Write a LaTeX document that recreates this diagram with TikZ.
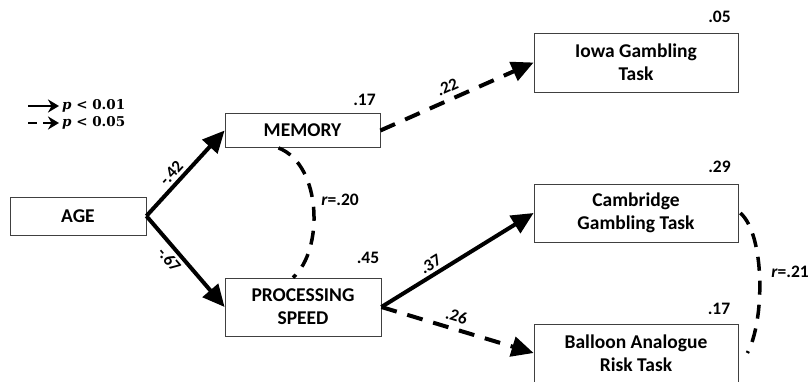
\documentclass[tikz,border=0pt]{standalone}
\usepackage{fontspec}
\setmainfont{Carlito}
\newfontfamily\legfont{DejaVu Serif}
\usetikzlibrary{arrows.meta,calc}
\begin{document}
\begin{tikzpicture}[x=1pt,y=-1pt,
 box/.style={draw=black!75, line width=0.8pt, fill=white, align=center,
   font=\fontsize{19.5}{23}\selectfont\bfseries, inner sep=0pt},
 num/.style={font=\fontsize{17.5}{20}\selectfont\bfseries, inner sep=0pt},
 elab/.style={font=\fontsize{17}{20}\selectfont\bfseries, inner sep=3pt, sloped},
 sig/.style={line width=4pt, -{Triangle[length=22pt,width=20pt]}},
 nsig/.style={sig, dash pattern=on 16pt off 11pt},
 corr/.style={line width=3.5pt, dash pattern=on 14pt off 10pt},
 legtxt/.style={font=\legfont\bfseries\fontsize{13.5}{15}\selectfont, inner sep=0pt, anchor=west},
 legarr/.style={line width=2.2pt, -{Stealth[length=11pt,width=13pt]}},
]
\useasboundingbox (0,0) rectangle (809,381);

% boxes
\node[box, minimum width=136pt, minimum height=38pt] (age) at (78,216) {AGE};
\node[box, minimum width=155pt, minimum height=34pt] (mem) at (302.5,130.5) {MEMORY};
\node[box, minimum width=156pt, minimum height=58pt] (proc) at (303,307) {PROCESSING\\SPEED};
\node[box, minimum width=204pt, minimum height=59pt] (iowa) at (636,62.5) {Iowa Gambling\\Task};
\node[box, minimum width=204pt, minimum height=58pt] (camb) at (636,213) {Cambridge\\Gambling Task};
\node[box, minimum width=204pt, minimum height=58pt] (ball) at (636,353) {Balloon Analogue\\Risk Task};

% R-squared values
\node[num] (r2mem) at (364.5,100) {.17};
\node[num] (r2proc) at (368,258) {.45};
\node[num] (r2iowa) at (719.5,17) {.05};
\node[num] (r2camb) at (719.5,167) {.29};
\node[num] (r2ball) at (719,309) {.17};

% paths
\draw[sig] (age.east) -- node[elab, above, pos=0.42] {-.42} (mem.west);
\draw[sig] (age.east) -- node[elab, below, pos=0.4] {-.67} (proc.west);
\draw[nsig] (mem.east) -- node[elab, above, pos=0.47, yshift=2pt] {.22} (iowa.west);
\draw[sig] (proc.east) -- node[elab, above, pos=0.36] {.37} (camb.west);
\draw[nsig] (proc.east) -- node[elab, above, pos=0.47, yshift=2pt] {.26} (ball.west);

% correlations
\draw[corr] ([xshift=-24pt]mem.south) .. controls (322,165) and (324,250) .. ([xshift=-10pt]proc.north);
\node[num] (r20) at (340,200) {\textit{r}=.20};
\draw[corr] ([xshift=2pt]camb.east) .. controls (765,235) and (765,320) .. ([xshift=9pt]ball.east);
\node[num] (r21) at (790,272) {\textit{r}=.21};

% legend
\node[legtxt] (leg1) at (62,106) {\textit{p} < 0.01};
\node[legtxt] (leg2) at (62,123) {\textit{p} < 0.05};
\coordinate (l1) at (28,106);
\coordinate (l2) at (28,123);
\draw[legarr] (l1) -- ([xshift=-3pt]leg1.west);
\draw[legarr, dash pattern=on 9pt off 6pt] (l2) -- ([xshift=-3pt]leg2.west);
\end{tikzpicture}
\end{document}
